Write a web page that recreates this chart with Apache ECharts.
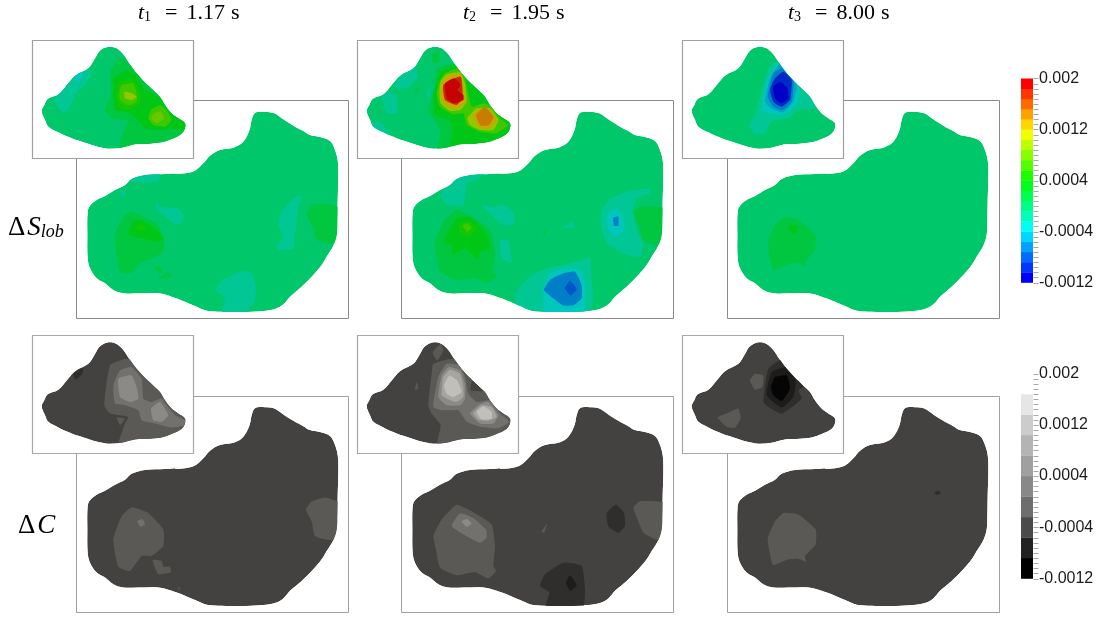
<!DOCTYPE html>
<html><head><meta charset="utf-8">
<style>html,body{margin:0;padding:0;background:#fff}#c{width:1102px;height:619px}</style>
<script src="https://cdn.jsdelivr.net/npm/echarts@6/dist/echarts.min.js"></script>
</head><body><div id="c"></div>
<script>
// Domain coordinates shared by all panels
const mainOutline=[[690,234],[720,231],[748,235],[775,253],[805,272],[835,288],[855,300],[885,306],[915,318],[928,340],[938,375],[940,420],[938,500],[937,560],[935,600],[925,632],[905,665],[890,690],[865,720],[830,755],[795,785],[775,808],[750,822],[715,828],[650,831],[590,830],[545,827],[510,813],[480,800],[440,785],[400,775],[340,775],[295,775],[265,765],[240,745],[215,730],[195,700],[188,670],[187,600],[188,530],[195,512],[215,495],[240,483],[270,465],[300,450],[320,432],[360,420],[420,417],[480,415],[510,407],[535,385],[555,362],[585,345],[625,338],[650,325],[665,305],[675,280],[680,255]];
const insetOutline=[[235,40],[255,35],[275,40],[295,58],[315,88],[335,115],[360,142],[385,165],[405,185],[420,210],[440,235],[460,250],[480,265],[478,285],[465,300],[440,312],[410,322],[375,326],[330,328],[290,338],[250,341],[220,336],[185,325],[140,310],[100,292],[70,275],[60,255],[50,228],[58,210],[68,192],[100,178],[125,150],[150,122],[190,100],[210,70],[222,50]];
const titles=['1.17','1.95','8.00'];
const colourBands=[-0.0012,0.002,20];
const grayBands=[-0.0012,0.002,10];
const grayBarColours=['#000000','#222222','#4a4a4a','#6e6e6e','#888888','#a0a0a0','#b4b4b4','#cccccc','#e6e6e6','#ffffff'];
const grayPanelColours=['#050505','#1d1c1b','#2f2e2d','#434240','#5a5955','#72716d','#8b8a86','#a6a5a1','#c0bfba','#dad9d5'];
const tickValues=[-0.0012,-0.0004,0.0004,0.0012,0.002];
const tickLabels=['-0.0012','-0.0004','0.0004','0.0012','0.002'];

const colourInset1=[
[-0.00016,[[85,195],[105,175],[130,145],[150,122],[190,98],[200,115],[180,150],[155,175],[130,225],[112,232],[95,210]]],
[-0.00032,[[148,125],[170,108],[172,125],[158,142]]],
[0.00016,[[258,105],[295,65],[315,88],[360,142],[405,185],[425,215],[445,240],[490,265],[485,295],[465,310],[410,330],[330,335],[285,345],[290,300],[310,258],[260,250],[240,225],[258,180]]],
[0.00032,[[265,130],[310,105],[340,125],[355,160],[410,190],[425,220],[445,240],[485,262],[480,285],[440,280],[410,285],[360,280],[340,255],[310,232],[270,225],[265,180]]],
[0.00048,[[285,140],[325,135],[345,175],[345,205],[310,225],[280,215],[275,175]]],
[0.00064,[[290,150],[325,145],[335,175],[335,200],[310,210],[285,195],[283,170]]],
[0.00064,[[378,225],[405,210],[425,225],[440,255],[420,275],[385,270],[370,250]]],
[0.0008,[[388,235],[408,230],[418,250],[395,265],[378,250]]],
[0.00096,[[298,170],[320,175],[335,185],[320,195],[300,190]]]];
const colourMain1=[
[-0.00016,[[310,435],[360,415],[405,415],[400,438],[370,442],[320,440]]],
[-0.00016,[[285,465],[300,468],[300,485],[288,482]]],
[-0.00016,[[392,505],[410,515],[460,520],[478,545],[465,568],[445,565],[410,535],[395,525]]],
[0.00016,[[270,600],[295,545],[320,530],[355,545],[395,565],[417,610],[415,650],[370,675],[350,680],[315,715],[285,710],[275,660]]],
[0.00032,[[310,590],[325,558],[345,555],[385,575],[415,610],[400,620],[350,610],[312,600]]],
[0.00048,[[335,572],[355,570],[360,583],[340,585]]],
[0.00016,[[388,695],[405,695],[412,712],[400,712]]],
[0.00016,[[400,728],[430,712],[438,725],[405,730]]],
[-0.00016,[[820,480],[830,482],[820,515],[815,560],[810,600],[805,640],[760,645],[755,635],[775,605],[760,570],[765,540],[785,510]]],
[0.00016,[[845,535],[860,512],[905,505],[945,520],[945,600],[925,625],[875,615],[860,570]]],
[-0.00016,[[572,765],[590,735],[650,708],[680,715],[692,750],[690,800],[670,822],[670,840],[590,840],[600,790]]]];
const colourInset2=[
[-0.00016,[[130,150],[165,110],[195,95],[205,125],[170,160],[140,160]]],
[-0.00016,[[95,182],[125,172],[140,185],[140,235],[110,235],[100,205]]],
[-0.00016,[[60,265],[85,258],[110,280],[120,300],[90,300]]],
[0.00016,[[195,165],[205,155],[205,170],[197,175]]],
[-0.00016,[[230,175],[240,150],[240,180],[233,190]]],
[0.00016,[[245,60],[270,50],[265,80],[250,85]]],
[0.00016,[[235,230],[255,150],[260,100],[320,85],[360,135],[405,180],[430,215],[445,235],[490,265],[485,295],[465,310],[410,330],[330,335],[262,345],[272,290],[250,250]]],
[0.00032,[[262,140],[270,110],[320,95],[345,130],[395,175],[420,215],[445,240],[490,265],[485,290],[440,318],[400,330],[330,335],[300,330],[310,290],[300,255],[255,240],[250,180]]],
[0.00064,[[268,140],[285,115],[325,100],[345,130],[355,175],[365,215],[400,205],[425,215],[450,250],[475,270],[440,295],[390,290],[350,270],[340,235],[310,238],[270,215],[260,175]]],
[0.00096,[[272,140],[290,118],[330,112],[345,145],[350,200],[330,225],[300,228],[272,205],[268,170]]],
[0.00096,[[352,250],[380,220],[420,220],[445,255],[430,285],[390,285],[360,270]]],
[0.00128,[[278,140],[295,122],[332,118],[340,160],[345,205],[325,218],[300,220],[275,195],[272,165]]],
[0.00128,[[368,245],[385,225],[420,228],[440,255],[420,280],[390,278]]],
[0.00144,[[378,240],[405,215],[430,245],[418,270],[392,272]]],
[0.00176,[[280,150],[332,125],[338,190],[320,210],[285,195]]],
[0.00192,[[285,145],[313,130],[332,150],[322,165],[340,180],[340,195],[310,205],[290,190]]]];
const colourMain2=[
[-0.00016,[[270,480],[305,440],[330,425],[410,415],[385,430],[350,450],[340,510],[290,510]]],
[-0.00016,[[395,510],[430,515],[460,510],[490,530],[495,565],[470,575],[450,565],[420,535]]],
[-0.00016,[[450,615],[475,615],[485,685],[455,670]]],
[0.00016,[[580,590],[590,585],[582,605]]],
[-0.00016,[[635,580],[665,560],[675,580],[650,578]]],
[-0.00016,[[755,525],[780,490],[830,470],[900,460],[900,475],[860,490],[850,530],[860,580],[880,630],[870,665],[830,660],[770,625],[752,570]]],
[-0.00032,[[770,540],[800,520],[820,550],[820,590],[795,605],[775,585]]],
[-0.00064,[[790,548],[805,545],[805,572],[792,572]]],
[0.00016,[[850,530],[870,515],[945,520],[945,600],[925,630],[880,615],[865,570]]],
[-0.00016,[[495,790],[505,760],[545,720],[590,700],[640,690],[680,680],[720,668],[725,740],[730,800],[715,840],[650,840],[590,840],[545,840],[500,820]]],
[-0.00032,[[580,765],[595,720],[640,700],[690,705],[705,745],[700,840],[585,840]]],
[-0.00064,[[582,765],[600,735],[640,715],[675,710],[695,750],[695,790],[672,810],[640,812],[610,790]]],
[-0.0008,[[645,760],[660,737],[680,762],[662,782]]],
[0.00016,[[255,620],[280,560],[320,525],[365,545],[420,585],[435,650],[430,710],[440,725],[410,745],[375,730],[320,735],[270,710],[258,660]]],
[0.00032,[[285,610],[320,550],[360,545],[410,595],[420,640],[390,650],[385,675],[345,640],[310,660],[305,630],[282,625]]],
[0.00048,[[325,570],[352,558],[380,580],[355,605],[330,590]]],
[0.00064,[[338,572],[352,565],[365,578],[352,590]]]];
const colourInset3=[
[-0.00016,[[222,270],[240,240],[265,150],[290,85],[315,80],[345,115],[400,175],[425,220],[370,225],[340,250],[290,260],[270,295],[240,298]]],
[-0.00032,[[262,225],[275,140],[300,95],[320,85],[355,125],[375,175],[360,215],[320,240],[285,235]]],
[-0.00048,[[270,200],[285,130],[315,85],[345,115],[365,150],[355,200],[325,232],[290,222]]],
[-0.00064,[[278,185],[295,115],[320,100],[355,135],[350,200],[322,225],[295,215]]],
[-0.00096,[[285,165],[300,130],[325,110],[350,135],[345,195],[320,215],[295,200]]],
[-0.00112,[[295,155],[315,140],[335,155],[340,190],[320,205],[300,190]]]];
const colourMain3=[
[0.00016,[[280,620],[300,570],[330,547],[370,555],[420,600],[420,645],[390,680],[395,695],[370,685],[340,688],[295,705],[290,690],[283,665]]],
[0.00032,[[340,572],[365,572],[365,590],[352,598]]]];
const grayInset1=[
[-0.0004,[[145,130],[175,112],[172,130],[152,148]]],
[0.00024,[[238,225],[255,105],[300,85],[320,90],[360,135],[405,180],[430,215],[445,235],[490,265],[485,290],[440,318],[400,330],[330,335],[280,345],[300,280],[310,260],[255,250]]],
[0.00024,[[275,262],[300,265],[285,285]]],
[0.00056,[[265,165],[285,120],[320,110],[350,145],[355,205],[380,215],[410,205],[425,225],[450,255],[480,270],[478,285],[440,292],[390,280],[350,270],[340,240],[300,225],[270,220]]],
[0.00088,[[280,145],[320,135],[335,170],[340,205],[315,215],[285,200]]],
[0.00088,[[378,235],[405,215],[430,255],[410,275],[385,270]]]];
const grayMain1=[
[0.00024,[[265,630],[290,560],[320,533],[370,550],[415,600],[415,650],[380,680],[350,680],[315,725],[280,712]]],
[0.00056,[[337,575],[352,568],[360,583],[347,592]]],
[0.00024,[[383,692],[410,695],[415,712],[435,712],[437,730],[400,735],[390,715]]],
[0.00024,[[843,540],[860,515],[900,503],[945,520],[945,600],[925,632],[870,620],[860,575]]],
[0.00024,[[458,775],[465,775],[462,785]]]];
const grayInset2=[
[0.00024,[[248,65],[272,40],[280,60],[262,90]]],
[0.00024,[[200,155],[205,175],[195,178]]],
[0.00024,[[235,225],[245,130],[250,100],[310,85],[345,130],[365,145],[362,180],[400,183],[405,180],[430,215],[445,235],[490,265],[485,290],[440,318],[400,330],[330,335],[262,345],[272,285],[245,250]]],
[0.00056,[[250,230],[265,140],[290,100],[330,105],[345,140],[355,190],[380,215],[420,210],[450,250],[478,275],[445,295],[390,290],[350,275],[325,240],[280,240]]],
[0.00088,[[265,200],[275,135],[295,110],[330,120],[345,160],[345,205],[330,225],[290,225]]],
[0.00088,[[360,250],[385,225],[415,215],[445,255],[430,280],[390,280]]],
[0.0012,[[275,195],[280,140],[300,118],[330,130],[340,170],[340,200],[320,215],[290,205]]],
[0.0012,[[370,250],[395,225],[425,230],[440,260],[415,272],[385,268]]],
[0.00152,[[282,165],[298,135],[322,150],[335,185],[310,200],[290,190]]],
[0.00152,[[380,245],[400,228],[425,245],[425,265],[395,268]]]];
const grayMain2=[
[0.00024,[[250,620],[275,570],[320,525],[365,545],[425,585],[435,650],[430,710],[438,725],[415,748],[375,728],[320,738],[270,715],[258,660]]],
[0.00056,[[305,590],[330,552],[370,565],[408,600],[410,625],[390,640],[350,620]]],
[0.00088,[[335,575],[352,568],[365,582],[350,592]]],
[0.00024,[[575,605],[592,582],[582,610]]],
[0.00024,[[850,535],[870,515],[945,520],[945,600],[925,632],[880,610],[865,575]]],
[-0.0004,[[770,550],[798,525],[822,550],[825,590],[805,610],[775,590]]],
[-0.0004,[[570,770],[585,735],[640,700],[695,710],[705,780],[698,840],[585,840],[598,790]]],
[-0.00072,[[648,760],[660,738],[680,768],[660,785]]]];
const grayInset3=[
[0.00024,[[225,150],[240,130],[265,135],[262,170],[240,178]]],
[0.00024,[[128,262],[165,245],[190,235],[197,265],[180,293],[155,290]]],
[-0.0004,[[265,215],[280,115],[320,88],[355,130],[385,170],[370,180],[380,205],[320,250],[280,230]]],
[-0.00072,[[275,195],[290,125],[335,110],[362,150],[355,200],[320,232]]],
[-0.00104,[[288,170],[300,140],[335,135],[345,175],[320,212],[295,195]]]];
const grayMain3=[
[0.00024,[[278,625],[300,575],[325,550],[370,555],[422,600],[422,645],[390,680],[393,697],[370,688],[340,690],[295,708],[288,690],[283,665]]],
[-0.0004,[[778,488],[790,482],[798,490],[785,496]]]];

const colourMains=[colourMain1,colourMain2,colourMain3], colourInsets=[colourInset1,colourInset2,colourInset3];
const grayMains=[grayMain1,grayMain2,grayMain3], grayInsets=[grayInset1,grayInset2,grayInset3];

function hsv(h,v){const c=v,x=c*(1-Math.abs((h/60)%2-1));let r=0,g=0,b=0;
 if(h<60){r=c;g=x}else if(h<120){r=x;g=c}else if(h<180){g=c;b=x}else{g=x;b=c}
 return 'rgb('+[r,g,b].map(t=>Math.round(t*255)).join(',')+')';}
function colourIdx(v){return Math.max(0,Math.min(19,Math.floor((v-colourBands[0])/((colourBands[1]-colourBands[0])/colourBands[2]))));}
function rainbow(i,bright){return hsv(240*(1-i/19),bright);}
function panelColour(v){return rainbow(colourIdx(v),0.78);}
function panelGray(v){return grayPanelColours[Math.max(0,Math.min(9,Math.floor((v-grayBands[0])/((grayBands[1]-grayBands[0])/grayBands[2]))))];}

const colX=[25,350,675], rowY=[35,330.7];
const frameDx=[0,0,2];
const frameStroke=[['#8a8a8a','#a0a0a0'],['#a0a0a0','#a8a8a8']];
const grid=[],xAxis=[],yAxis=[],series=[];
function addPanel(cx,ry,mains,insets,paint,base){
 const k=grid.length;
 grid.push({left:colX[cx],top:rowY[ry],width:330,height:290,containLabel:false});
 xAxis.push({type:'value',gridIndex:k,min:0,max:990,show:false});
 yAxis.push({type:'value',gridIndex:k,min:0,max:870,inverse:true,show:false});
 const items=[];
 items.push({kind:'main-frame'});
 items.push({kind:'blob',clip:mainOutline,pts:mainOutline,v:base,smooth:0.35,c:paint(base)});
 mains.forEach(l=>items.push({kind:'blob',clip:mainOutline,pts:l[1],v:l[0],smooth:0.15,c:paint(l[0])}));
 items.push({kind:'inset-frame'});
 items.push({kind:'blob',clip:insetOutline,pts:insetOutline,v:base,smooth:0.35,c:paint(base)});
 insets.forEach(l=>items.push({kind:'blob',clip:insetOutline,pts:l[1],v:l[0],smooth:0.15,c:paint(l[0])}));
 series.push({type:'custom',xAxisIndex:k,yAxisIndex:k,clip:false,silent:true,animation:false,
  data:items.map(it=>[it.v===undefined?0:it.v]),
  encode:{x:[],y:[]},
  renderItem(p,api){
   const it=items[p.dataIndex];
   if(it.kind==='main-frame'){
    const d=frameDx[cx];
    const a=api.coord([154+d,196]),b=api.coord([970+d,849]);
    return {type:'rect',shape:{x:Math.round(a[0])+.5,y:Math.round(a[1])+.5,width:Math.round(b[0]-a[0]),height:Math.round(b[1]-a[1])},style:{fill:'#fff',stroke:frameStroke[ry][0],lineWidth:1}};
   }
   if(it.kind==='inset-frame'){
    const a=api.coord([22,14]),b=api.coord([505,369]);
    return {type:'rect',shape:{x:Math.round(a[0])+.5,y:Math.round(a[1])+.5,width:Math.round(b[0]-a[0]),height:Math.round(b[1]-a[1])},style:{fill:'#fff',stroke:frameStroke[ry][1],lineWidth:1.2}};
   }
   return {type:'polygon',shape:{points:it.pts.map(q=>api.coord(q)),smooth:it.smooth},style:{fill:it.c,stroke:null},
     clipPath:{type:'polygon',shape:{points:it.clip.map(q=>api.coord(q)),smooth:0.35}}};
  }});
}
for(let c=0;c<3;c++) addPanel(c,0,colourMains[c],colourInsets[c],panelColour,0);
for(let c=0;c<3;c++) addPanel(c,1,grayMains[c],grayInsets[c],panelGray,-0.00008);

const tickStep=0.00008,tickCount=40;
function addBar(top,height,bands,colours){
 const k=grid.length,n=bands[2],step=(bands[1]-bands[0])/n;
 grid.push({left:1021,top:top,width:12,height:height});
 xAxis.push({type:'value',gridIndex:k,min:0,max:1,show:false});
 yAxis.push({type:'value',gridIndex:k,min:bands[0],max:bands[1],position:'right',
  axisLine:{show:false},splitLine:{show:false},axisTick:{show:false},
  axisLabel:{show:true,margin:6,fontFamily:'Liberation Sans',fontSize:16,color:'#1a1a1a',customValues:tickValues,showMinLabel:true,showMaxLabel:true,hideOverlap:false,
    formatter:v=>{let b=0;tickValues.forEach((t,i)=>{if(Math.abs(t-v)<1e-7)b=i});return tickLabels[b];}}});
 series.push({type:'custom',xAxisIndex:k,yAxisIndex:k,silent:true,animation:false,clip:false,
  data:colours.map((c,i)=>[0,bands[0]+i*step,bands[0]+(i+1)*step]),
  encode:{x:0,y:[1,2]},
  renderItem(p,api){
   const a=api.coord([0,api.value(2)]),b=api.coord([1,api.value(1)]);
   return {type:'rect',shape:{x:a[0],y:a[1],width:b[0]-a[0],height:b[1]-a[1]+.3},style:{fill:colours[p.dataIndex]}};
  }});
 const ticks=[];for(let i=0;i<=tickCount;i++)ticks.push([1,bands[0]+i*tickStep]);
 series.push({type:'custom',xAxisIndex:k,yAxisIndex:k,silent:true,animation:false,clip:false,data:ticks,encode:{x:0,y:1},
  renderItem(p,api){
   const a=api.coord([1,api.value(1)]);
   const y=Math.round(a[1])+.5;
   return {type:'line',shape:{x1:a[0]+.5,y1:y,x2:a[0]+5.5,y2:y},style:{stroke:'#a8a8a8',lineWidth:1}};
  }});
}
addBar(78.5,204,colourBands,Array.from({length:20},(_,i)=>rainbow(i,1)));
addBar(373.5,205,grayBands,grayBarColours);

const serif='Liberation Serif';
const mathRich={
 i:{fontFamily:serif,fontStyle:'italic',fontSize:22,color:'#111'},
 e:{fontFamily:serif,fontSize:22,color:'#111',padding:[0,9,0,14]},
 r:{fontFamily:serif,fontSize:22,color:'#111',padding:[0,6,0,0]},
 u:{fontFamily:serif,fontSize:27,color:'#111',padding:[0,2,0,0]},
 b:{fontFamily:serif,fontStyle:'italic',fontSize:27,color:'#111'},
 s:{fontFamily:serif,fontSize:14,color:'#111',verticalAlign:'bottom',lineHeight:14,padding:[9,0,0,0]},
 si:{fontFamily:serif,fontStyle:'italic',fontSize:18,color:'#111',verticalAlign:'bottom',lineHeight:18,padding:[10,0,0,0]}};
const graphic=[];
[138,463,788].forEach((x,i)=>graphic.push({type:'text',left:x,top:1,silent:true,
 style:{rich:mathRich,text:'{i|t}{s|'+(i+1)+'}{e|=}{r|'+titles[i]+'}{r|s}'}}));
graphic.push({type:'text',left:8,top:213,silent:true,style:{rich:mathRich,text:'{u|Δ}{b|S}{si|lob}'}});
graphic.push({type:'text',left:18,top:512,silent:true,style:{rich:mathRich,text:'{u|Δ}{b|C}'}});

const chart=echarts.init(document.getElementById('c'),null,{renderer:'canvas'});
chart.setOption({animation:false,backgroundColor:'#fff',grid,xAxis,yAxis,series,graphic});
</script></body></html>
